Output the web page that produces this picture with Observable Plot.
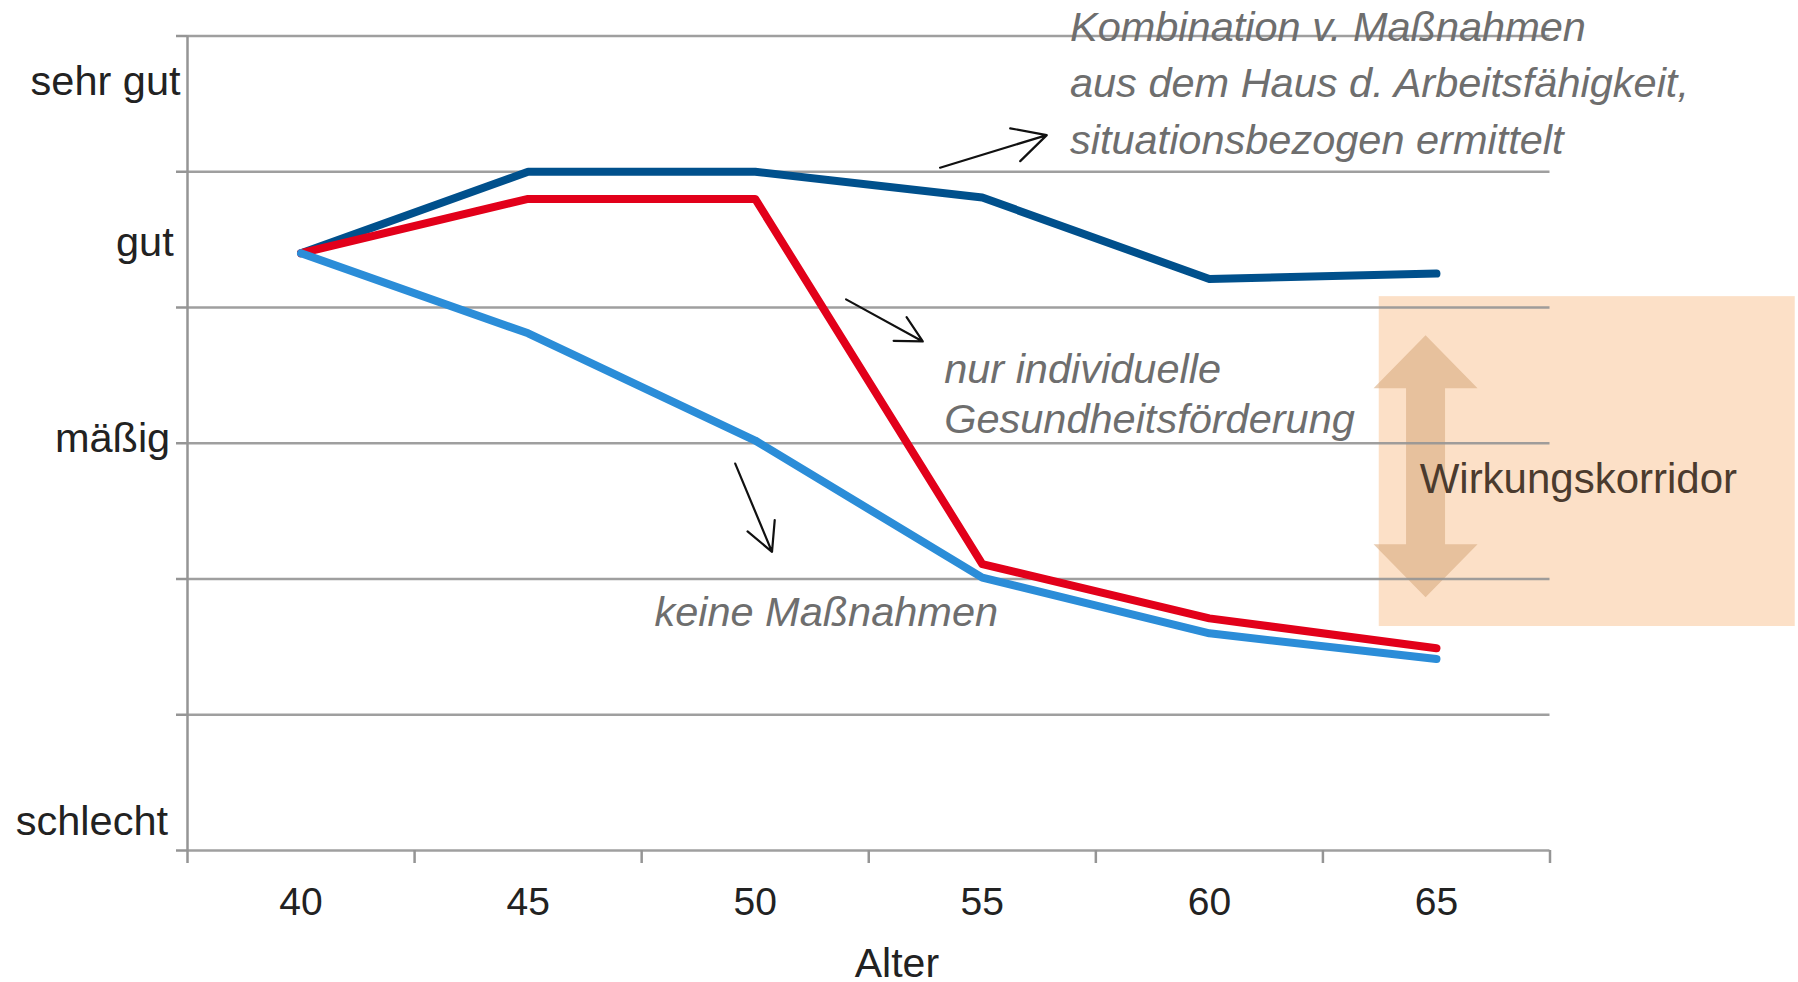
<!DOCTYPE html>
<html><head><meta charset="utf-8">
<script src="https://cdn.jsdelivr.net/npm/d3@7"></script>
<script src="https://cdn.jsdelivr.net/npm/@observablehq/plot@0.6"></script>
<style>html,body{margin:0;padding:0;background:#fff;} svg{display:block;}</style>
</head><body><div id="chart"></div>
<script>
// ---- data ----
const ages = [40, 45, 50, 55, 60, 65];
const kombination = [4.40, 5.00, 5.00, 4.81, 4.21, 4.25];
const individuell = [4.40, 4.80, 4.80, 2.11, 1.71, 1.49];
const keine = [4.40, 3.81, 3.02, 2.01, 1.60, 1.41];

const yLevels = ["schlecht", "mäßig", "gut", "sehr gut"];
const yLevelPos = [0.21, 3.03, 4.48, 5.66];
const gridValues = [0, 1, 2, 3, 4, 5, 6];
const xBoundaries = [37.5, 42.5, 47.5, 52.5, 57.5, 62.5, 67.5];
const xLabel = "Alter";
const xLabelPos = 53.12;

// annotations
const noteText = ["Kombination v. Maßnahmen", "aus dem Haus d. Arbeitsfähigkeit,", "situationsbezogen ermittelt",
                  "nur individuelle", "Gesundheitsförderung", "keine Maßnahmen"];
const noteX = [56.93, 56.93, 56.93, 54.16, 54.16, 47.78];
const noteY = [6.06, 5.65, 5.23, 3.54, 3.17, 1.75];

const arrowX1 = [54.07, 52.00, 49.56];
const arrowY1 = [5.03, 4.06, 2.85];
const arrowX2 = [56.42, 53.69, 50.37];
const arrowY2 = [5.27, 3.75, 2.20];

const corridorLabel = "Wirkungskorridor";
const corridorX = [63.74, 72.9];
const corridorY = [1.65, 4.08];
const corridorLabelPos = [64.63, 2.73];
const corridorArrowPos = [64.76, 2.83];

// ---- tables ----
const toRows = (vals) => ages.map((a, i) => ({age: a, v: vals[i]}));
const notes = noteText.map((t, i) => ({t, x: noteX[i], y: noteY[i]}));
const arrows = arrowX1.map((d, i) => ({x1: d, y1: arrowY1[i], x2: arrowX2[i], y2: arrowY2[i]}));
const corridor = [{x1: corridorX[0], x2: corridorX[1], y1: corridorY[0], y2: corridorY[1]}];

const doubleArrow = {
  draw(ctx, l) {
    const h = 53, hw = 52, sw = 19.5;
    ctx.moveTo(0, 0);
    ctx.lineTo(hw, -h);
    ctx.lineTo(sw, -h);
    ctx.lineTo(sw, -(l - h));
    ctx.lineTo(hw, -(l - h));
    ctx.lineTo(0, -l);
    ctx.lineTo(-hw, -(l - h));
    ctx.lineTo(-sw, -(l - h));
    ctx.lineTo(-sw, -h);
    ctx.lineTo(-hw, -h);
    ctx.closePath();
  }
};

const grid = "#959595";
const font = "'Liberation Sans', Arial, sans-serif";
// individual label offsets from the axis, as in the original layout
const labelPadding = {"schlecht": 19.5, "mäßig": 17.3, "gut": 13.8, "sehr gut": 7};

const yLabelAxes = yLevels.map((lab, i) => Plot.axisY({
  ticks: [yLevelPos[i]], tickSize: 0, tickPadding: labelPadding[lab], label: null,
  fontSize: 41.5, fill: "#222", tickFormat: () => lab
}));

const chart = Plot.plot({
  width: 1798, height: 982,
  marginLeft: 187, marginRight: 248.5, marginTop: 35.5, marginBottom: 132,
  x: {domain: [37.5, 67.5], label: null},
  y: {domain: [0, 6], label: null},
  style: {fontFamily: font, fontSize: "39px", color: "#222", background: "white", overflow: "visible"},
  marks: [
    Plot.rect(corridor, {x1: "x1", x2: "x2", y1: "y1", y2: "y2", fill: "#f9b67a", fillOpacity: 0.42}),
    Plot.vector([corridorArrowPos], {x: d => d[0], y: d => d[1], length: 262, anchor: "middle",
      shape: doubleArrow, fill: "#d9ab80", fillOpacity: 0.6, stroke: "none"}),
    Plot.ruleY(gridValues, {stroke: grid, strokeWidth: 2.5, strokeOpacity: 0.9}),
    Plot.ruleX([xBoundaries[0]], {stroke: grid, strokeWidth: 2.5}),
    Plot.axisY({ticks: gridValues, tickSize: 11, tickFormat: () => "", stroke: grid, strokeWidth: 2.5, label: null}),
    ...yLabelAxes,
    Plot.axisX({ticks: xBoundaries, tickSize: 13, tickFormat: () => "", stroke: grid, strokeWidth: 2.5, label: null}),
    Plot.axisX({ticks: ages, tickSize: 0, tickPadding: 37, label: null, fontSize: 39, fill: "#222"}),
    Plot.text([{label: xLabel, x: xLabelPos}], {x: "x", text: "label", frameAnchor: "bottom", dy: 126, fontSize: 41, fill: "#222"}),
    Plot.line(toRows(kombination), {x: "age", y: "v", stroke: "#00508c", strokeWidth: 8}),
    Plot.line(toRows(individuell), {x: "age", y: "v", stroke: "#e2001a", strokeWidth: 8}),
    Plot.line(toRows(keine), {x: "age", y: "v", stroke: "#2b8dd8", strokeWidth: 8}),
    Plot.arrow(arrows, {x1: "x1", y1: "y1", x2: "x2", y2: "y2", stroke: "#111", strokeWidth: 2.2, headLength: 26, headAngle: 55}),
    Plot.text(notes, {x: "x", y: "y", text: "t", textAnchor: "start", lineAnchor: "middle",
      fontStyle: "italic", fontSize: 41.5, fill: "#6e6e6e"}),
    Plot.text([corridorLabelPos], {x: d => d[0], y: d => d[1], text: () => corridorLabel, textAnchor: "start",
      fontSize: 42, fill: "#4b3b2e"})
  ]
});
document.getElementById("chart").append(chart);
</script>
</body></html>
